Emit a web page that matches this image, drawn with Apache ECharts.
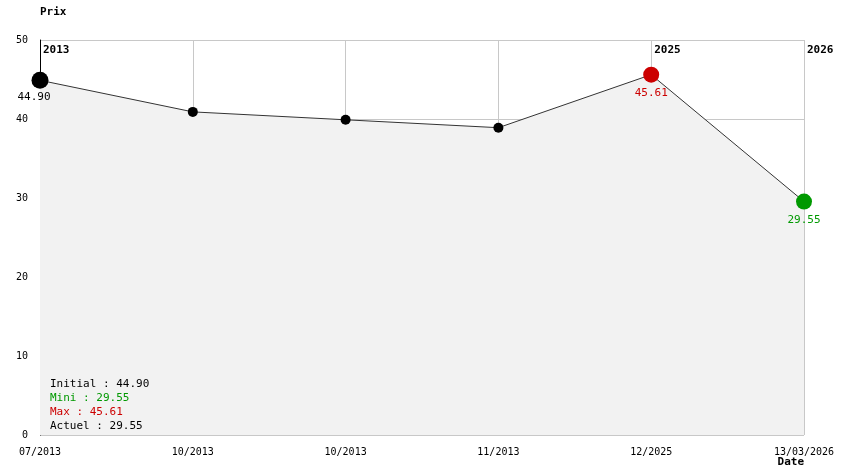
<!DOCTYPE html>
<html><head><meta charset="utf-8">
<script src="https://cdn.jsdelivr.net/npm/echarts@6/dist/echarts.min.js"></script>
<style>html,body{margin:0;padding:0;background:#fff}#main{width:844px;height:474px}</style>
</head><body><div id="main"></div>
<script>
var dates = ['07/2013', '10/2013', '10/2013', '11/2013', '12/2025', '13/03/2026'];
var prices = [44.90, 40.9, 39.9, 38.9, 45.61, 29.55];
var yearMarks = [[0, '2013'], [4, '2025'], [5, '2026']];
var stats = [['Initial', '44.90', '#000'], ['Mini', '29.55', '#009900'], ['Max', '45.61', '#cc0000'], ['Actuel', '29.55', '#000']];

var font = 'DejaVu Sans Mono';
var chart = echarts.init(document.getElementById('main'));

var points = prices.map(function (v, i) {
  var p = { value: v, symbolSize: 10, itemStyle: { color: '#000' } };
  if (i === 0) { p.symbolSize = 17; p.label = { show: true, color: '#000', position: 'bottom', offset: [-6, -2] }; }
  if (i === 4) { p.symbolSize = 16; p.itemStyle = { color: '#cc0000' }; p.label = { show: true, color: '#cc0000', position: 'bottom' }; }
  if (i === 5) { p.symbolSize = 16; p.itemStyle = { color: '#009900' }; p.label = { show: true, color: '#009900', position: 'bottom' }; }
  return p;
});

chart.setOption({
  animation: false,
  textStyle: { fontFamily: font },
  grid: { left: 40, right: 40, top: 40, bottom: 39 },
  xAxis: {
    type: 'category', data: dates, boundaryGap: false,
    name: 'Date', nameLocation: 'end', nameGap: 0,
    nameTextStyle: { fontWeight: 'bold', fontSize: 11, color: '#000', align: 'right', verticalAlign: 'top', padding: [22, 0, 0, 0] },
    axisLine: { show: false }, axisTick: { show: false },
    axisLabel: { color: '#000', fontSize: 10, margin: 12, showMaxLabel: true, showMinLabel: true, interval: 0 },
    splitLine: { show: true, lineStyle: { color: '#c8c8c8' } }
  },
  yAxis: {
    type: 'value', min: 0, max: 50, interval: 10,
    name: 'Prix', nameLocation: 'end', nameGap: 22,
    nameTextStyle: { fontWeight: 'bold', fontSize: 11, color: '#000', align: 'left' },
    axisLine: { show: true, lineStyle: { color: '#000' } }, axisTick: { show: false },
    axisLabel: { color: '#000', fontSize: 10, margin: 12 },
    splitLine: { show: true, lineStyle: { color: '#c8c8c8' } }
  },
  series: [{
    type: 'line', data: points, symbol: 'circle',
    lineStyle: { color: '#333', width: 1 },
    areaStyle: { color: '#f2f2f2', opacity: 1 },
    label: { fontSize: 11, fontFamily: font, formatter: function (p) { return p.value.toFixed(2); } }
  }]
});

var g = [];
yearMarks.forEach(function (m) {
  var pt = chart.convertToPixel({ xAxisIndex: 0, yAxisIndex: 0 }, [m[0], 50]);
  g.push({ type: 'text', z: 100, x: pt[0] + 3, y: pt[1] + 5, style: { text: m[1], font: 'bold 11px ' + font, fill: '#000' } });
});
var y0 = chart.convertToPixel({ yAxisIndex: 0 }, 0);
stats.forEach(function (s, i) {
  g.push({ type: 'text', z: 100, x: 50, y: y0 - 56 + i * 14, style: { text: s[0] + ' : ' + s[1], font: '11px ' + font, fill: s[2] } });
});
chart.setOption({ graphic: g });
</script></body></html>
